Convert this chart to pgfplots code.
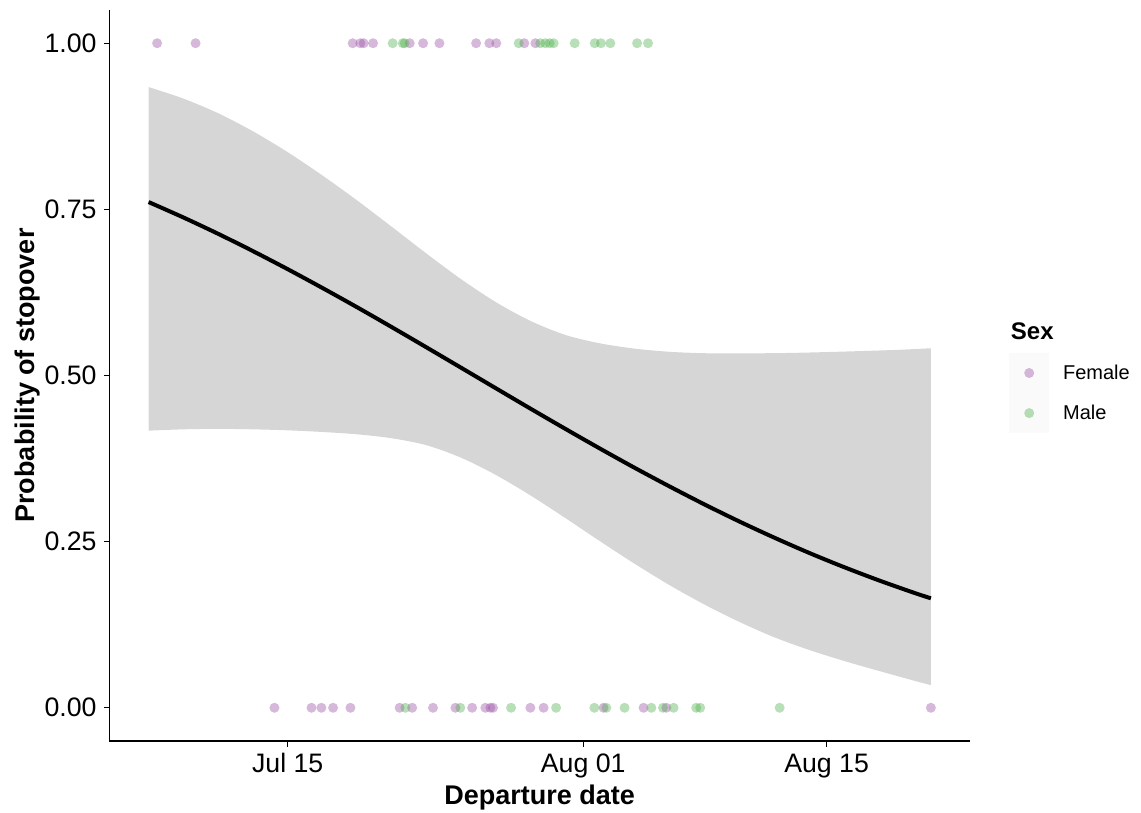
\documentclass[border=0pt]{standalone}
\usepackage{fontspec}
\setmainfont{Liberation Sans}
\usepackage{pgfplots}
\pgfplotsset{compat=1.18}
\usepgfplotslibrary{fillbetween}
\definecolor{femcol}{HTML}{984EA3}
\definecolor{malecol}{HTML}{4DAF4A}
\definecolor{ribboncol}{RGB}{214,214,214}
\definecolor{keybg}{RGB}{242,242,242}
\begin{document}
\begin{tikzpicture}
\begin{axis}[
  at={(0pt,0pt)}, anchor=south west,
  width=860.5pt, height=731pt, scale only axis,
  xmin=185.75, xmax=235.25, ymin=-0.05, ymax=1.05,
  axis lines=left,
  axis line style={-, line width=1.6pt, black},
  xtick={196,213,227}, xticklabels={Jul 15,Aug 01,Aug 15},
  ytick={0,0.25,0.5,0.75,1}, yticklabels={0.00,0.25,0.50,0.75,1.00},
  minor tick num=0,
  tick align=outside, major tick length=5.5pt,
  tick style={line width=1.4pt, black},
  ticklabel style={font=\fontsize{26.7}{30}\selectfont, inner sep=0pt, text=black},
  xticklabel style={anchor=base, yshift=-26.2pt},
  yticklabel style={anchor=east, xshift=-7.3pt},
  xlabel={Departure date}, ylabel={Probability of stopover},
  every axis x label/.style={at={(axis description cs:0.5,0)}, anchor=base, yshift=-63pt,
    font=\bfseries\fontsize{27}{31}\selectfont, inner sep=0pt},
  every axis y label/.style={at={(axis description cs:-0.0877,0.5)}, rotate=90, anchor=base,
    font=\bfseries\fontsize{27}{31}\selectfont, inner sep=0pt},
  clip=false,
  legend style={at={(1.0453,0.476)}, anchor=west, draw=none, fill=none,
    inner sep=0pt, outer sep=0pt, row sep=0pt,
    font=\fontsize{20}{24}\selectfont,
    nodes={inner sep=0pt}},
  legend cell align=left,
  legend image code/.code={%
    \fill[keybg] (0pt,-19.85pt) rectangle (40pt,19.85pt);
    \path (0pt,0pt) -- (53.7pt,0pt);
    \draw[#1] plot coordinates {(20pt,0pt)};},
]
% confidence ribbon
\addplot[name path=upper, draw=none, smooth, forget plot] coordinates {
 (188,0.934) (190,0.9167) (192,0.8947) (194,0.8675) (196,0.8361) (198,0.8010)
 (200,0.7633) (202,0.7235) (204,0.6832) (206,0.6445) (208,0.6100) (210,0.5817)
 (212,0.5608) (214,0.5482) (216,0.5403) (218,0.5356) (220,0.5335) (222,0.5332)
 (225,0.5340) (228,0.5360) (231,0.5385) (233,0.541)};
\addplot[name path=lower, draw=none, smooth, forget plot] coordinates {
 (188,0.417) (190,0.419) (192,0.4197) (194,0.419) (196,0.4175) (198,0.415)
 (200,0.4115) (202,0.4055) (204,0.395) (206,0.376) (208,0.350) (210,0.319)
 (212,0.285) (214,0.250) (216,0.216) (218,0.184) (220,0.155) (222,0.129)
 (224,0.106) (226,0.087) (228,0.0705) (230,0.0555) (232,0.041) (233,0.034)};
\addplot[ribboncol, draw=none, forget plot] fill between[of=upper and lower];
% fitted curve
\addplot[black, line width=4pt, smooth, forget plot] coordinates {
 (188,0.7610) (190,0.7378) (192,0.7132) (194,0.6872) (196,0.6600) (198,0.6317)
 (200,0.6026) (202,0.5726) (204,0.5421) (206,0.5113) (208,0.4804) (210,0.4496)
 (212,0.4193) (214,0.3895) (216,0.3605) (218,0.3326) (220,0.3057) (222,0.2801)
 (224,0.2559) (226,0.2330) (228,0.2117) (230,0.1918) (232,0.1733) (233,0.1647)};
% observations
\addplot[only marks, mark=*, mark size=5pt, color=femcol, draw opacity=0, fill opacity=0.4] coordinates {
 (188.49,1) (190.70,1) (199.74,1) (200.18,1) (200.37,1) (200.91,1) (203.02,1)
 (203.79,1) (204.73,1) (206.84,1) (207.60,1) (208.00,1) (209.61,1) (210.25,1)
 (195.24,0) (197.37,0) (197.94,0) (198.61,0) (199.61,0) (202.44,0) (203.16,0)
 (204.36,0) (205.65,0) (206.61,0) (207.37,0) (207.66,0) (207.81,0) (209.96,0)
 (210.72,0) (214.17,0) (216.47,0) (217.78,0) (233.00,0)};
\addlegendentry{Female}
\addplot[only marks, mark=*, mark size=5pt, color=malecol, draw opacity=0, fill opacity=0.4] coordinates {
 (202.04,1) (202.62,1) (202.73,1) (209.29,1) (210.53,1) (210.82,1) (211.07,1)
 (211.30,1) (212.51,1) (213.66,1) (214.02,1) (214.56,1) (216.10,1) (216.73,1)
 (202.77,0) (205.93,0) (208.85,0) (211.44,0) (213.64,0) (214.33,0) (215.38,0)
 (216.92,0) (217.59,0) (218.20,0) (219.50,0) (219.73,0) (224.30,0)};
\addlegendentry{Male}
\node[anchor=base west, inner sep=0pt, font=\bfseries\fontsize{24}{28}\selectfont]
  at (rel axis cs:1.0473,0.5486) {Sex};
\end{axis}
\path (-109.5pt,-71pt) rectangle (1031.5pt,741pt);
\end{tikzpicture}
\end{document}
